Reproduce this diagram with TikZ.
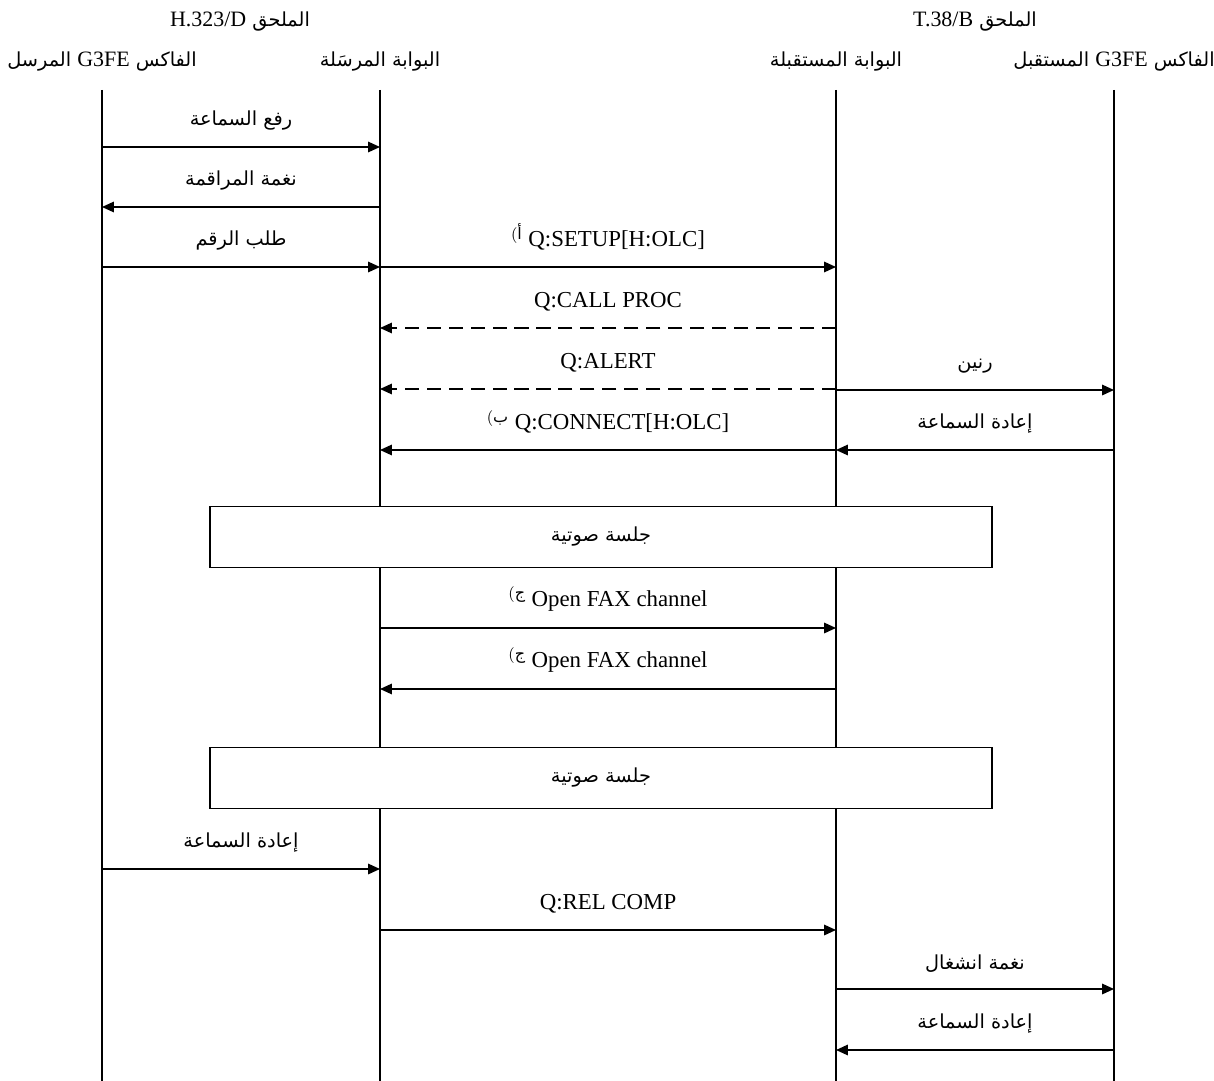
\documentclass[tikz,border=0pt]{standalone}
\usepackage{fontspec}
\setmainfont{Liberation Serif}
\newfontfamily\arabicfont[Script=Arabic]{DejaVu Sans}
\newfontfamily\latinfont{Liberation Serif}
\TeXXeTstate=1
\usetikzlibrary{positioning}
\usetikzlibrary{arrows.meta}
\newcommand{\artxt}[1]{{\arabicfont\fontsize{11}{13}\selectfont\beginR #1\endR}}
\newcommand{\lattxt}[1]{\beginL{\latinfont\fontsize{12.5}{14}\selectfont #1}\endL}
\newcommand{\fnmark}[1]{\textsuperscript{$($\arabicfont #1}}

\begin{document}
\begin{tikzpicture}[x=0.02cm,y=-0.02cm,
	head/.style={inner sep=1pt},
	life/.style={line width=0.9pt},
	msg/.style={line width=0.9pt,-{Triangle[length=6.8pt,width=6pt]}},
	msgdash/.style={msg,dash pattern=on 8pt off 4.5pt},
	lbl/.style={midway,above=9pt,inner sep=0pt,font=\fontsize{13}{15}\selectfont},
	session/.style={draw,line width=0.9pt,fill=white,minimum width=15.64cm,minimum height=1.22cm}]
	\useasboundingbox (0,0) rectangle (1214,1081);
	% annexes and entities
	\node[head] at (240,22) (annexD) {\artxt{الملحق \lattxt{H.323/D}}};
	\node[head] at (975,22) (annexB) {\artxt{الملحق \lattxt{T.38/B}}};
	\node[head] at (102,62) (sfax) {\artxt{الفاكس \lattxt{G3FE} المرسل}};
	\node[head] at (380,62) (sgw) {\artxt{البوابة المرسَلة}};
	\node[head] at (836,62) (rgw) {\artxt{البوابة المستقبلة}};
	\node[head] at (1114,62) (rfax) {\artxt{الفاكس \lattxt{G3FE} المستقبل}};
	\foreach \n in {sfax,sgw,rgw,rfax} \draw[life] (\n |- 0,90) -- (\n |- 0,1081);
	
	\draw[msg] (sfax |- 0,147) -- node[lbl] {\artxt{رفع السماعة}} (sgw |- 0,147);
	\draw[msg] (sgw |- 0,207) -- node[lbl] {\artxt{نغمة المراقمة}} (sfax |- 0,207);
	\draw[msg] (sfax |- 0,267) -- node[lbl] {\artxt{طلب الرقم}} (sgw |- 0,267); \draw[msg] (sgw |- 0,267) -- node[lbl] {\fnmark{أ} Q:SETUP[H:OLC]} (rgw |- 0,267);
	\draw[msgdash] (rgw |- 0,328) -- node[lbl] {Q:CALL PROC} (sgw |- 0,328);
	\draw[msgdash] (rgw |- 0,389) -- node[lbl] {Q:ALERT} (sgw |- 0,389); \draw[msg] (rgw |- 0,390) -- node[lbl] {\artxt{رنين}} (rfax |- 0,390);
	\draw[msg] (rgw |- 0,450) -- node[lbl] {\fnmark{ب} Q:CONNECT[H:OLC]} (sgw |- 0,450); \draw[msg] (rfax |- 0,450) -- node[lbl] {\artxt{إعادة السماعة}} (rgw |- 0,450);
	\node[session] at (601,537) (voice1) {\artxt{جلسة صوتية}};
	\draw[msg] (sgw |- 0,628) -- node[lbl] {\fnmark{ج} Open FAX channel} (rgw |- 0,628);
	\draw[msg] (rgw |- 0,689) -- node[lbl] {\fnmark{ج} Open FAX channel} (sgw |- 0,689);
	\node[session] at (601,778) (voice2) {\artxt{جلسة صوتية}};
	\draw[msg] (sfax |- 0,869) -- node[lbl] {\artxt{إعادة السماعة}} (sgw |- 0,869);
	\draw[msg] (sgw |- 0,930) -- node[lbl] {Q:REL COMP} (rgw |- 0,930);
	\draw[msg] (rgw |- 0,989) -- node[lbl] {\artxt{نغمة انشغال}} (rfax |- 0,989);
	\draw[msg] (rfax |- 0,1050) -- node[lbl] {\artxt{إعادة السماعة}} (rgw |- 0,1050);
\end{tikzpicture}
\end{document}
